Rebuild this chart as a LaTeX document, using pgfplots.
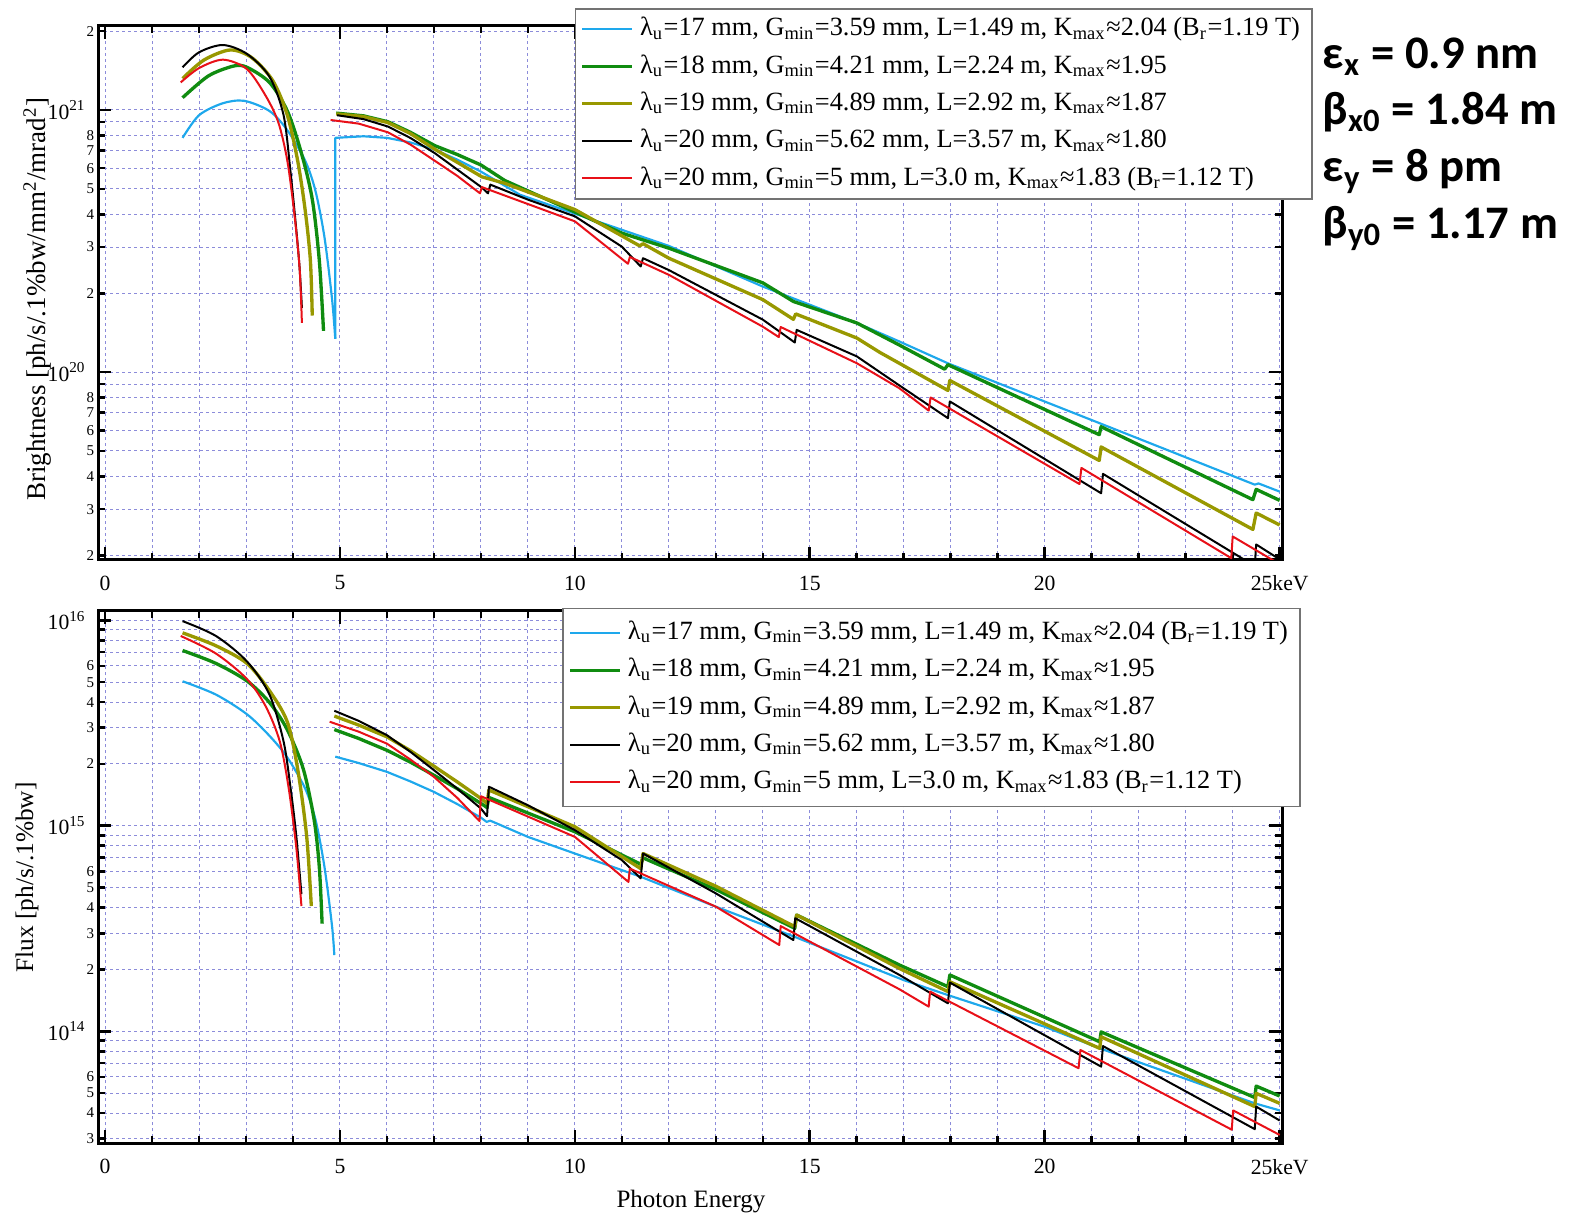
\documentclass[border=0pt]{standalone}
\usepackage{fontspec}
\setmainfont{Liberation Serif}
\newfontfamily\calib{Carlito}
\usepackage{pgfplots}
\pgfplotsset{compat=1.18}

\definecolor{ccyan}{RGB}{30,168,236}
\definecolor{cgreen}{RGB}{16,140,16}
\definecolor{colive}{RGB}{152,152,0}
\definecolor{cred}{RGB}{232,16,24}
\definecolor{cgrid}{RGB}{140,140,218}

\tikzset{
 s17/.style={color=ccyan, line width=0.65pt, line join=round},
 s18/.style={color=cgreen, line width=1.0pt, line join=round},
 s19/.style={color=colive, line width=1.0pt, line join=round},
 s20/.style={color=black, line width=0.6pt, line join=round},
 s20b/.style={color=cred, line width=0.6pt, line join=round},
}

\pgfplotsset{
 myaxis/.style={
  scale only axis, width=355.2pt, anchor=south west,
  xmin=-0.15, xmax=25.05,
  xtick={0,5,10,15,20,25}, xticklabels={0,5,10,15,20,25keV},
  minor x tick num=4,
  grid=both,
  major grid style={cgrid, line width=0.3pt, dash pattern=on 1pt off 0.8pt},
  minor grid style={cgrid, line width=0.3pt, dash pattern=on 1pt off 0.8pt},
  axis line style={line width=0.9pt},
  tick style={black, line width=0.8pt},
  major tick length=4pt, minor tick length=2.2pt, tick align=inside,
  xticklabel style={font=\fontsize{6.5}{7}\selectfont, yshift=-1.2pt},
  yticklabel style={font=\fontsize{6.5}{7}\selectfont},
  extra y tick style={grid=none, major tick length=2.2pt,
     yticklabel style={font=\fontsize{4.5}{5}\selectfont, inner sep=1pt}},
  legend cell align=left,
  legend image code/.code={\draw[##1] (0pt,0pt) -- (14.8pt,0pt);},
  legend style={anchor=north west, draw=black!55, line width=0.5pt, fill=white,
     font=\fontsize{7.9}{9.5}\selectfont, inner xsep=1.6pt, inner ysep=0.5pt,
     row sep=0pt, column sep=0pt,
     nodes={inner xsep=2pt, inner ysep=0pt, text height=7.6pt, text depth=3.6pt}},
 }
}

\begin{document}
\begin{tikzpicture}
\useasboundingbox (0,0) rectangle (472.5pt,-364.8pt);

% ---------------- Brightness ----------------
\begin{semilogyaxis}[myaxis, at={(29.4pt,-168pt)}, height=160.32pt,
  ymin=1.92e19, ymax=2.1e21,
  ytick={1e20,1e21}, yticklabels={10\textsuperscript{20},10\textsuperscript{21}},
  minor ytick={2e19,3e19,4e19,5e19,6e19,7e19,8e19,9e19,2e20,3e20,4e20,5e20,6e20,7e20,8e20,9e20,2e21},
  extra y ticks={2e19,3e19,4e19,5e19,6e19,7e19,8e19,2e20,3e20,4e20,5e20,6e20,7e20,8e20,2e21},
  extra y tick labels={2,3,4,5,6,7,8,2,3,4,5,6,7,8,2},
  ylabel={Brightness [ph/s/.1\%bw/mm\textsuperscript{2}/mrad\textsuperscript{2}]},
  ylabel style={at={(axis description cs:-0.0514,0.488)}, anchor=center, font=\fontsize{8.1}{9}\selectfont},
  legend style={at={(0.4025,1.0329)}},
]
% lambda 17
\addplot[s17, smooth, tension=0.5] coordinates {(1.65,7.83e20) (2.0,9.55e20) (2.5,1.06e21) (2.96,1.084e21) (3.5,9.91e20) (3.88,8.37e20) (4.26,6.40e20) (4.48,4.90e20) (4.67,3.27e20) (4.83,1.91e20) (4.9,1.34e20)};
\addlegendentry{λ\textsubscript{u}=17 mm, G\textsubscript{min}=3.59 mm, L=1.49 m, K\textsubscript{max}≈2.04 (B\textsubscript{r}=1.19 T)}
\addplot[s17, forget plot] coordinates {(4.9,1.34e20) (4.9,7.83e20) (5.5,7.94e20) (6.0,7.83e20) (6.5,7.52e20) (7.0,7.08e20) (7.5,6.46e20) (8.0,5.82e20) (8.83,4.75e20) (11.0,3.49e20) (12.0,3.03e20) (14.0,2.12e20) (16.0,1.54e20) (16.9,1.31e20) (17.94,1.08e20) (21.2,6.35e19) (24.47,3.72e19) (24.55,3.76e19) (25.0,3.50e19)};
% lambda 18
\addplot[s18, smooth, tension=0.5] coordinates {(1.65,1.114e21) (2.2,1.349e21) (2.74,1.472e21) (3.02,1.455e21) (3.5,1.274e21) (3.88,9.91e20) (4.18,6.84e20) (4.41,4.57e20) (4.56,2.67e20) (4.65,1.436e20)};
\addlegendentry{λ\textsubscript{u}=18 mm, G\textsubscript{min}=4.21 mm, L=2.24 m, K\textsubscript{max}≈1.95}
\addplot[s18, forget plot] coordinates {(4.92,9.73e20) (5.5,9.5e20) (6.02,9.02e20) (6.5,8.22e20) (7.02,7.31e20) (7.5,6.76e20) (8.0,6.17e20) (8.51,5.38e20) (11.0,3.39e20) (12.0,2.97e20) (14.0,2.19e20) (14.65,1.86e20) (16.0,1.54e20) (16.9,1.27e20) (17.87,1.026e20) (17.94,1.067e20) (21.16,5.77e19) (21.2,6.19e19) (24.43,3.26e19) (24.5,3.57e19) (25.0,3.24e19)};
% lambda 19
\addplot[s19, smooth, tension=0.5] coordinates {(1.65,1.318e21) (2.1,1.549e21) (2.66,1.694e21) (3.12,1.585e21) (3.57,1.294e21) (3.88,9.55e20) (4.1,6.40e20) (4.26,4.14e20) (4.37,2.67e20) (4.41,1.644e20)};
\addlegendentry{λ\textsubscript{u}=19 mm, G\textsubscript{min}=4.89 mm, L=2.92 m, K\textsubscript{max}≈1.87}
\addplot[s19, forget plot] coordinates {(4.92,9.66e20) (5.5,9.44e20) (6.02,8.95e20) (6.5,8.13e20) (7.02,7.08e20) (7.5,6.31e20) (8.02,5.56e20) (8.51,5.25e20) (10.0,4.17e20) (11.38,3.03e20) (11.45,3.09e20) (12.0,2.72e20) (14.0,1.89e20) (14.65,1.59e20) (14.7,1.667e20) (16.0,1.349e20) (16.49,1.189e20) (17.94,8.51e19) (17.98,9.29e19) (21.16,4.60e19) (21.2,5.18e19) (24.43,2.51e19) (24.5,2.90e19) (25.0,2.61e19)};
% lambda 20
\addplot[s20, smooth, tension=0.5] coordinates {(1.65,1.455e21) (2.0,1.66e21) (2.51,1.77e21) (3.02,1.637e21) (3.5,1.340e21) (3.8,9.55e20) (3.95,5.75e20) (4.07,3.50e20) (4.14,2.51e20) (4.19,1.758e20)};
\addlegendentry{λ\textsubscript{u}=20 mm, G\textsubscript{min}=5.62 mm, L=3.57 m, K\textsubscript{max}≈1.80}
\addplot[s20, forget plot] coordinates {(4.94,9.55e20) (5.5,9.23e20) (6.02,8.65e20) (6.5,7.82e20) (7.02,6.84e20) (7.5,5.92e20) (8.02,5.06e20) (8.15,4.81e20) (8.2,5.19e20) (9.0,4.55e20) (10.0,3.93e20) (11.0,3.01e20) (11.4,2.53e20) (11.45,2.72e20) (12.0,2.45e20) (14.0,1.585e20) (14.68,1.297e20) (14.72,1.449e20) (16.0,1.148e20) (16.9,8.91e19) (17.94,6.67e19) (17.98,7.73e19) (21.2,3.45e19) (21.24,4.09e19) (24.47,1.82e19) (24.5,2.2e19) (25.0,1.93e19)};
% lambda 20, 5 mm
\addplot[s20b, smooth, tension=0.5] coordinates {(1.61,1.274e21) (2.0,1.445e21) (2.51,1.556e21) (3.02,1.432e21) (3.42,1.132e21) (3.69,8.95e20) (3.88,6.40e20) (4.03,4.00e20) (4.14,2.50e20) (4.19,1.54e20)};
\addlegendentry{λ\textsubscript{u}=20 mm, G\textsubscript{min}=5 mm, L=3.0 m, K\textsubscript{max}≈1.83 (B\textsubscript{r}=1.12 T)}
\addplot[s20b, forget plot] coordinates {(4.8,9.16e20) (5.4,8.87e20) (6.02,8.22e20) (6.5,7.38e20) (7.02,6.40e20) (7.5,5.6e20) (7.98,4.81e20) (8.02,5.08e20) (10.0,3.76e20) (11.13,2.59e20) (11.17,2.75e20) (12.0,2.35e20) (14.0,1.49e20) (14.34,1.36e20) (14.38,1.486e20) (16.0,1.081e20) (16.9,8.69e19) (17.53,7.13e19) (17.57,8.0e19) (20.74,3.74e19) (20.78,4.31e19) (23.97,1.95e19) (24.0,2.36e19) (25.0,1.85e19)};
\end{semilogyaxis}

% ---------------- Flux ----------------
\begin{semilogyaxis}[myaxis, at={(29.4pt,-342.99pt)}, height=159.69pt,
  ymin=2.85e13, ymax=1.11e16,
  ytick={1e14,1e15,1e16}, yticklabels={10\textsuperscript{14},10\textsuperscript{15},10\textsuperscript{16}},
  minor ytick={3e13,4e13,5e13,6e13,7e13,8e13,9e13,2e14,3e14,4e14,5e14,6e14,7e14,8e14,9e14,2e15,3e15,4e15,5e15,6e15,7e15,8e15,9e15},
  extra y ticks={3e13,4e13,5e13,6e13,2e14,3e14,4e14,5e14,6e14,2e15,3e15,4e15,5e15,6e15},
  extra y tick labels={3,4,5,6,2,3,4,5,6,2,3,4,5,6},
  ylabel={Flux [ph/s/.1\%bw]},
  ylabel style={at={(axis description cs:-0.0599,0.4995)}, anchor=center, font=\fontsize{7.6}{9}\selectfont},
  xlabel={Photon Energy},
  xlabel style={at={(axis description cs:0.5008,-0.110)}, anchor=center, font=\fontsize{7.5}{9}\selectfont},
  legend style={at={(0.3923,1.0062)}, inner ysep=1.7pt},
]
\addplot[s17, smooth, tension=0.5] coordinates {(1.65,5.05e15) (2.36,4.35e15) (3.02,3.49e15) (3.5,2.74e15) (3.88,2.15e15) (4.26,1.517e15) (4.48,1.069e15) (4.67,6.31e14) (4.83,3.27e14) (4.88,2.35e14)};
\addlegendentry{λ\textsubscript{u}=17 mm, G\textsubscript{min}=3.59 mm, L=1.49 m, K\textsubscript{max}≈2.04 (B\textsubscript{r}=1.19 T)}
\addplot[s17, forget plot] coordinates {(4.9,2.17e15) (5.4,2.02e15) (6.0,1.83e15) (6.5,1.644e15) (7.0,1.462e15) (7.5,1.274e15) (8.0,1.096e15) (8.12,1.045e15) (8.2,1.059e15) (9.0,8.83e14) (10.0,7.33e14) (11.4,5.65e14) (13.0,4.04e14) (14.68,2.88e14) (17.0,1.774e14) (17.94,1.5e14) (20.0,1.052e14) (21.17,8.26e13) (24.47,4.46e13) (25.0,4.12e13)};
\addplot[s18, smooth, tension=0.5] coordinates {(1.65,7.13e15) (2.36,6.17e15) (3.02,5.07e15) (3.5,3.98e15) (3.88,2.93e15) (4.22,1.888e15) (4.45,1.069e15) (4.56,6.31e14) (4.62,3.34e14)};
\addlegendentry{λ\textsubscript{u}=18 mm, G\textsubscript{min}=4.21 mm, L=2.24 m, K\textsubscript{max}≈1.95}
\addplot[s18, forget plot] coordinates {(4.88,2.94e15) (5.4,2.66e15) (6.0,2.33e15) (6.5,2.04e15) (7.0,1.762e15) (7.5,1.514e15) (8.0,1.285e15) (8.13,1.227e15) (8.17,1.374e15) (10.0,9.35e14) (11.4,6.50e14) (11.45,6.98e14) (13.0,4.90e14) (14.68,3.17e14) (14.72,3.68e14) (16.91,2.10e14) (17.94,1.648e14) (17.98,1.879e14) (21.17,8.89e13) (21.2,9.93e13) (24.47,4.76e13) (24.5,5.41e13) (25.0,4.84e13)};
\addplot[s19, smooth, tension=0.5] coordinates {(1.65,8.69e15) (2.36,7.52e15) (3.02,6.17e15) (3.5,4.54e15) (3.88,3.20e15) (4.1,1.888e15) (4.29,8.95e14) (4.39,4.07e14)};
\addlegendentry{λ\textsubscript{u}=19 mm, G\textsubscript{min}=4.89 mm, L=2.92 m, K\textsubscript{max}≈1.87}
\addplot[s19, forget plot] coordinates {(4.88,3.42e15) (5.4,3.09e15) (6.0,2.71e15) (6.5,2.32e15) (7.0,1.95e15) (7.5,1.633e15) (8.0,1.358e15) (8.13,1.285e15) (8.17,1.493e15) (10.0,9.89e14) (11.4,6.19e14) (11.45,7.33e14) (13.0,5.08e14) (14.68,3.23e14) (14.72,3.68e14) (16.91,2.02e14) (17.94,1.56e14) (17.98,1.742e14) (21.17,8.26e13) (21.2,9.40e13) (24.47,4.30e13) (24.5,4.99e13) (25.0,4.46e13)};
\addplot[s20, smooth, tension=0.5] coordinates {(1.65,9.91e15) (2.36,8.39e15) (3.02,6.31e15) (3.5,4.35e15) (3.8,2.57e15) (3.95,1.517e15) (4.07,8.95e14) (4.18,4.65e14)};
\addlegendentry{λ\textsubscript{u}=20 mm, G\textsubscript{min}=5.62 mm, L=3.57 m, K\textsubscript{max}≈1.80}
\addplot[s20, forget plot] coordinates {(4.88,3.63e15) (5.4,3.24e15) (6.0,2.76e15) (6.5,2.29e15) (7.0,1.866e15) (7.5,1.514e15) (8.0,1.213e15) (8.13,1.114e15) (8.17,1.549e15) (9.0,1.259e15) (10.0,9.53e14) (11.0,6.81e14) (11.4,5.55e14) (11.45,7.33e14) (13.0,4.69e14) (14.65,2.78e14) (14.69,3.55e14) (16.91,1.879e14) (17.94,1.368e14) (17.98,1.726e14) (21.2,6.73e13) (21.24,8.47e13) (24.47,3.34e13) (24.5,4.30e13) (25.0,3.68e13)};
\addplot[s20b, smooth, tension=0.5] coordinates {(1.61,8.39e15) (2.36,6.89e15) (3.02,5.18e15) (3.42,3.81e15) (3.72,2.57e15) (3.91,1.517e15) (4.07,7.85e14) (4.18,4.07e14)};
\addlegendentry{λ\textsubscript{u}=20 mm, G\textsubscript{min}=5 mm, L=3.0 m, K\textsubscript{max}≈1.83 (B\textsubscript{r}=1.12 T)}
\addplot[s20b, forget plot] coordinates {(4.78,3.21e15) (5.4,2.87e15) (6.0,2.51e15) (6.5,2.1e15) (7.0,1.73e15) (7.5,1.365e15) (7.97,1.054e15) (8.0,1.393e15) (10.0,8.83e14) (11.14,5.33e14) (11.17,6.19e14) (13.0,4.04e14) (14.35,2.63e14) (14.38,3.25e14) (16.91,1.6e14) (17.53,1.318e14) (17.56,1.56e14) (20.72,6.61e13) (20.76,8.11e13) (23.98,3.32e13) (24.01,4.12e13) (25.0,3.13e13)};
\end{semilogyaxis}

% beam parameters
\begin{scope}[every node/.style={anchor=base west, inner sep=0pt, font=\calib\bfseries\fontsize{14}{16}\selectfont}]
\node at (396.6pt,-20.5pt) {ε\textsubscript{x} = 0.9 nm};
\node at (396.6pt,-37.35pt) {β\textsubscript{x0} = 1.84 m};
\node at (396.6pt,-54.3pt) {ε\textsubscript{y} = 8 pm};
\node at (396.6pt,-71.4pt) {β\textsubscript{y0} = 1.17 m};
\end{scope}
\end{tikzpicture}
\end{document}
